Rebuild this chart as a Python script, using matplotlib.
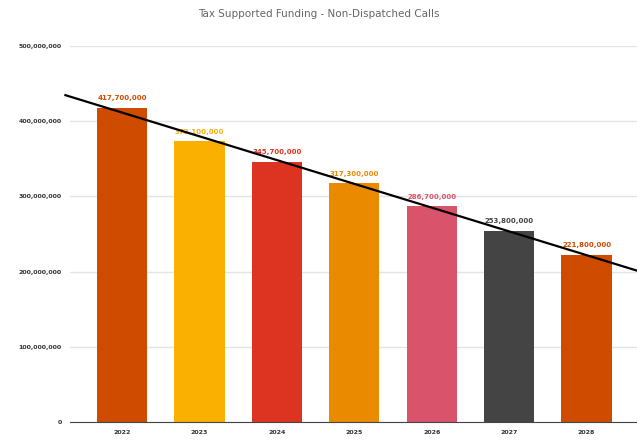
import numpy as np
import matplotlib.pyplot as plt

# Tax supported funding by year
years = ['2022', '2023', '2024', '2025', '2026', '2027', '2028']
funding = [417700000, 373100000, 345700000, 317300000, 286700000, 253800000, 221800000]
colors = ['#cf4b00', '#f9b000', '#dc3420', '#e98a00', '#d9546b', '#444444', '#cf4b00']

fig = plt.figure(figsize=(6.37, 4.46), dpi=100)
ax = fig.add_axes([0.11, 0.054, 0.89, 0.843])

x = np.arange(len(years))
ax.bar(x, funding, width=0.65, color=colors, zorder=2)

# value labels above each bar
for xi, val, c in zip(x, funding, colors):
    ax.text(xi, val + 9000000, f'{val:,}', ha='center', va='bottom',
            fontsize=5, color=c, fontweight='bold')

# linear trend line
slope, intercept = np.polyfit(x, funding, 1)
xs = np.array([-0.73, 6.7])
ax.plot(xs, slope * xs + intercept, color='black', lw=1.6, zorder=3, clip_on=False)

ax.set_xlim(-0.67, 6.65)
ax.set_ylim(0, 500000000)
ax.set_yticks([0, 100000000, 200000000, 300000000, 400000000, 500000000])
ax.set_yticklabels(['0', '100,000,000', '200,000,000', '300,000,000',
                    '400,000,000', '500,000,000'])
ax.set_xticks(x)
ax.set_xticklabels(years)
ax.tick_params(axis='both', length=0, labelsize=4.5, labelcolor='#333333', pad=6)
for lbl in ax.get_xticklabels() + ax.get_yticklabels():
    lbl.set_fontweight('bold')
ax.yaxis.grid(True, color='#e4e4e4', lw=1, zorder=0)

for s in ['top', 'right', 'left']:
    ax.spines[s].set_visible(False)
ax.spines['bottom'].set_color('#444444')

fig.suptitle('Tax Supported Funding - Non-Dispatched Calls', y=0.98,
             fontsize=7.5, color='#666666')

fig.savefig('out.png', dpi=100)
